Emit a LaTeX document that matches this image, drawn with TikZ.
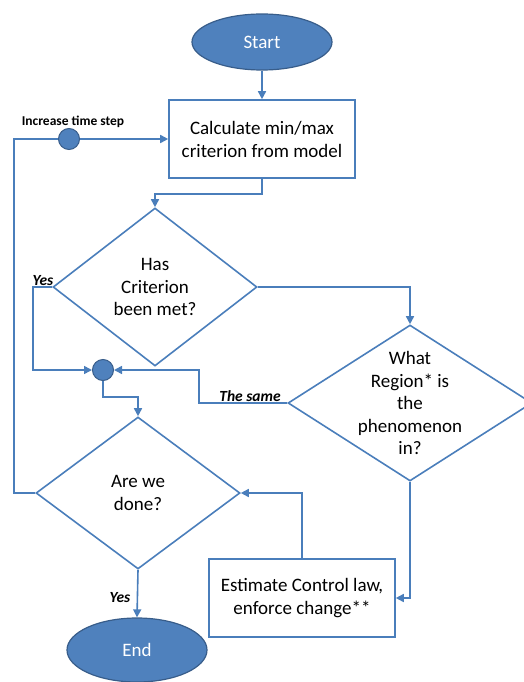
\documentclass[tikz,border=0pt]{standalone}
\usepackage{fontspec}
\setmainfont{Carlito}
\usetikzlibrary{shapes.geometric, arrows.meta}
\definecolor{lineblue}{RGB}{74,126,187}
\definecolor{fillblue}{RGB}{79,129,189}
\definecolor{edgeblue}{RGB}{56,93,138}

\begin{document}
\begin{tikzpicture}[x=1pt,y=-1pt,
  term/.style={draw=edgeblue,fill=fillblue,shape=ellipse,line width=1.2pt,minimum width=140pt,minimum height=56pt,text=white,font=\fontsize{19}{22}\selectfont},
  proc/.style={draw=lineblue,shape=rectangle,line width=1.6pt,minimum width=186pt,minimum height=78pt,align=center,font=\fontsize{19}{23}\selectfont},
  decision/.style={draw=lineblue,shape=diamond,line width=1.6pt,inner sep=0pt},
  txt/.style={align=center,font=\fontsize{19}{22.5}\selectfont},
  junction/.style={draw=edgeblue,fill=fillblue,shape=circle,line width=1pt,inner sep=0pt,minimum size=21pt},
  link/.style={draw=lineblue,line width=1.6pt},
  flow/.style={link,-{Triangle[length=8pt,width=8pt]}},
  tag/.style={font=\bfseries\itshape\fontsize{15.5}{17}\selectfont}]
  \useasboundingbox (0,0) rectangle (523,682);
  \node[term] (start) at (262,42) {Start};
  \node[proc] (calc) at (262,139) {Calculate min/max\\criterion from model};
  \node[decision,minimum width=204pt,minimum height=158pt] (met) at (155,287) {};
  \node[txt] (mettxt) at (met) {Has\\Criterion\\been met?};
  \node[decision,minimum width=244pt,minimum height=156pt] (region) at (410,403) {};
  \node[txt] (regiontxt) at (region) {What\\Region* is\\the\\phenomenon\\in?};
  \node[decision,minimum width=204pt,minimum height=152pt] (done) at (138,493) {};
  \node[txt] (donetxt) at (done) {Are we\\done?};
  \node[proc] (enforce) at (302,598) {Estimate Control law,\\enforce change**};
  \node[term,minimum height=64pt] (end) at (137,650) {End};
  \node[junction] (merge) at (103,370) {};
  \node[junction] (tick) at (69,139) {};
  % labels
  \node[font=\bfseries\fontsize{13.5}{15}\selectfont] (ticklabel) at (73,122) {Increase time step};
  \node[tag] (yesmet) at (43,281) {Yes};
  \node[tag] (same) at (250,396) {The same};
  \node[tag] (yesdone) at (120,598) {Yes};
  % connectors
  \draw[flow] (start) -- (calc);
  \draw[flow] (calc.south) -- ++(0,15) -| (met.north);
  \draw[flow] (met.east) -| (region.north);
  \draw[flow] (met.west) -- ++(-19,0) |- (merge.west);
  \draw[flow] (region.west) -- ++(-88,0) |- (merge.east);
  \draw[flow] (merge.south) -- ++(0,16) -| (done.north);
  \draw[link] (done.west) -- ++(-21,0) |- (tick.west);
  \draw[flow] (tick) -- (calc);
  \draw[flow] (region.south) |- (enforce.east);
  \draw[flow] (enforce.north) |- (done.east);
  \draw[flow] (done.south) -- (end.north);
\end{tikzpicture}
\end{document}
